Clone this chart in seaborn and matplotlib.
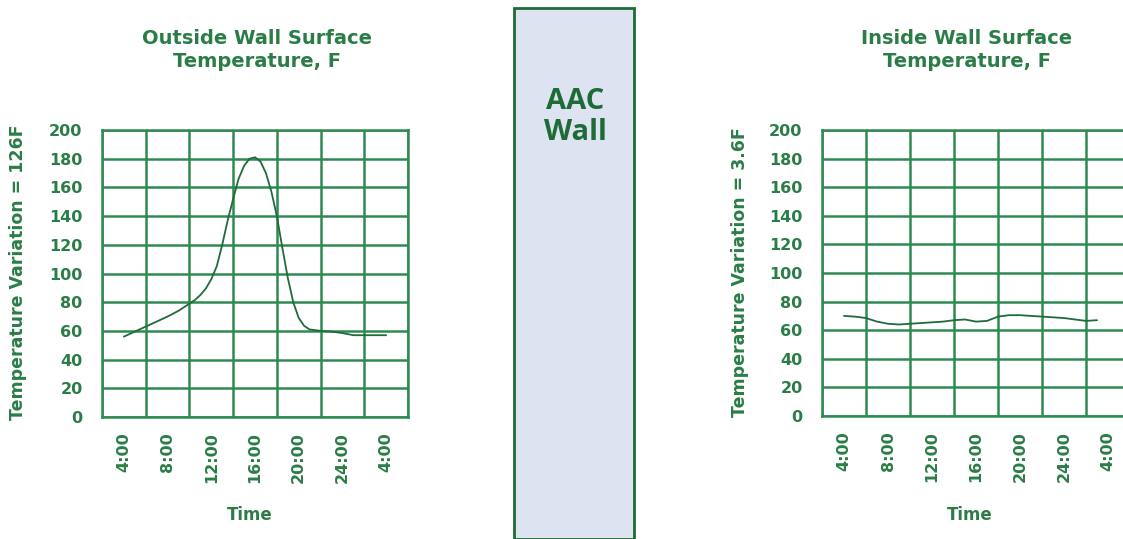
import numpy as np
import pandas as pd
import matplotlib
matplotlib.use("Agg")
import matplotlib.pyplot as plt
import seaborn as sns
from matplotlib.patches import Rectangle

# ---- data ----
outside_hours = [4, 5, 6, 7, 8, 9, 10, 10.5, 11, 11.5, 12, 12.5, 13, 13.5, 14,
                 14.5, 15, 15.5, 16, 16.5, 17, 17.5, 18, 18.5, 19, 19.5, 20,
                 20.5, 21, 22, 23, 24, 25, 26, 27, 28]
outside_temp = [56, 59.5, 63, 66.5, 70, 74, 79, 81.5, 85, 89.5, 96, 105, 120,
                137, 152, 166, 175, 180, 181, 178, 170, 157, 140, 118, 97, 80,
                69, 63.5, 61, 60, 59.5, 58.5, 57, 57, 57, 57]

inside_hours = [4, 5, 6, 7, 8, 9, 10, 11, 12, 13, 14, 15, 16, 17, 18, 19,
                20, 21, 22, 23, 24, 25, 26, 27]
inside_temp = [70, 69.5, 68.5, 66, 64.5, 64, 64.5, 65, 65.5, 66, 67, 67.5,
               66, 66.5, 69.5, 70.5, 70.5, 70, 69.5, 69, 68.5, 67.5, 66.5, 67]

tick_pos = [4, 8, 12, 16, 20, 24, 28]
tick_labels = ["4:00", "8:00", "12:00", "16:00", "20:00", "24:00", "4:00"]
y_ticks = list(range(0, 201, 20))

titles = ["Outside Wall Surface\nTemperature, F", "Inside Wall Surface\nTemperature, F"]
ylabels = ["Temperature Variation = 126F", "Temperature Variation = 3.6F"]

GREEN = "#2b7d47"
GRID = "#2f8a52"
LINE = "#1f6b3a"

sns.set_style("white")
plt.rcParams["font.family"] = ["DejaVu Sans"]

fig = plt.figure(figsize=(11.23, 5.39), dpi=100)
W, H = 1123, 539


def make_axes(left_px, right_px, top_px, bottom_px):
    return fig.add_axes([left_px / W, 1 - bottom_px / H,
                         (right_px - left_px) / W, (bottom_px - top_px) / H])


def style(ax, hours, temp, title, ylabel, title_x, ylabel_x, time_x):
    sns.lineplot(x=hours, y=temp, ax=ax, color=LINE, linewidth=1.3)
    ax.set_xlim(2, 30)
    ax.set_ylim(0, 200)
    ax.set_xticks(range(2, 31, 4))
    ax.set_xticklabels([])
    ax.set_xticks(tick_pos, minor=True)
    ax.set_xticklabels(tick_labels, minor=True, rotation=90,
                       fontsize=11.5, fontweight="bold", color=GREEN)
    ax.set_yticks(y_ticks)
    ax.set_yticklabels([str(v) for v in y_ticks], fontsize=11.5,
                       fontweight="bold", color=GREEN)
    ax.tick_params(axis="both", which="major", length=4, width=1.8,
                   color=GRID, direction="out", pad=10)
    ax.tick_params(axis="x", which="minor", length=0, pad=11)
    ax.grid(True, which="major", color=GRID, linewidth=1.8)
    for s in ax.spines.values():
        s.set_color(GRID)
        s.set_linewidth(1.8)
    ax.set_xlabel("")
    ax.set_ylabel("")
    fig.text(title_x / W, 1 - 50 / H, title, ha="center", va="center",
             fontsize=14, fontweight="bold", color=GREEN, linespacing=1.25)
    fig.text(ylabel_x / W, 1 - 272 / H, ylabel, rotation=90, ha="center",
             va="center", fontsize=12.5, fontweight="bold", color=GREEN)
    fig.text(time_x / W, 1 - 515 / H, "Time", ha="center", va="center",
             fontsize=12, fontweight="bold", color=GREEN)


ax1 = make_axes(102, 408, 130, 417)
style(ax1, outside_hours, outside_temp, titles[0], ylabels[0], 257, 18, 250)

ax2 = make_axes(822, 1130, 130, 416)
style(ax2, inside_hours, inside_temp, titles[1], ylabels[1], 967, 740, 970)

# AAC wall panel in the middle
fig.patches.append(Rectangle((514 / W, 0), 120 / W, 1 - 8 / H,
                             transform=fig.transFigure, facecolor="#dde3f1",
                             edgecolor="#1d6b35", linewidth=2))
fig.text(575 / W, 1 - 117 / H, "AAC\nWall", ha="center", va="center",
         fontsize=21, fontweight="bold", color="#1d6b35",
         family=["Open Sans", "DejaVu Sans"], linespacing=1.05)

fig.savefig("out.png", dpi=100)
plt.close(fig)
